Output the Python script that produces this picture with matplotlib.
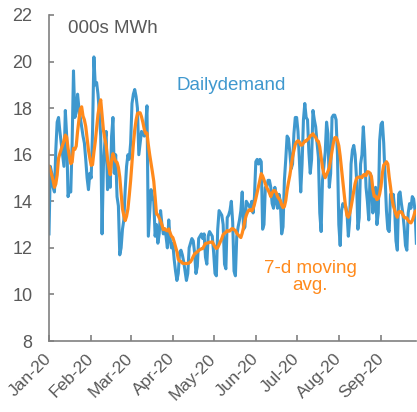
import matplotlib
matplotlib.use('Agg')
import matplotlib.pyplot as plt
import matplotlib.dates as mdates
import numpy as np
import pandas as pd

plt.rcParams['font.family'] = ['Liberation Sans', 'DejaVu Sans']

# daily demand, 000s MWh
dec_tail = [16.8, 16.5, 16.2, 16.5, 15.2, 14.7]  # 26-31 Dec 2019, only feeds the 7-d avg
jan = [12.6, 15.5, 15.2, 14.6, 14.4, 16.2, 17.4, 17.6, 17.0, 16.5, 16.0, 15.5, 17.9, 16.8, 14.2, 14.5,
       14.4, 16.5, 19.6, 17.6, 17.8, 18.6, 18.0, 17.6, 17.2, 16.8, 16.5, 15.8, 15.0, 14.5, 15.2]
feb = [15.0, 17.0, 20.2, 19.0, 19.1, 18.6, 17.8, 16.8, 12.6, 15.5, 16.5, 17.0, 14.5, 15.3, 14.6,
       16.8, 17.6, 15.2, 16.0, 14.2, 13.8, 11.7, 12.0, 12.8, 13.2, 14.5, 15.5, 16.0, 15.8]
mar = [16.5, 18.2, 18.6, 18.8, 18.5, 18.0, 16.0, 16.5, 17.0, 16.9, 16.8, 17.2, 18.1, 12.5, 13.5, 14.5,
       14.2, 14.0, 12.5, 13.0, 12.2, 12.6, 13.6, 13.0, 12.6, 12.8, 12.5, 12.0, 13.2, 12.4, 12.0]
apr = [12.2, 11.5, 11.0, 10.6, 10.9, 11.8, 11.9, 11.7, 11.4, 11.0, 10.6, 10.9, 12.0, 12.2, 12.4,
       12.3, 11.8, 10.9, 11.2, 12.4, 12.5, 12.6, 12.4, 12.6, 11.6, 11.3, 12.5, 12.7, 12.6, 12.5]
may = [11.8, 10.9, 10.8, 12.8, 13.6, 13.5, 13.4, 13.0, 11.3, 11.1, 13.3, 13.4, 13.6, 14.0, 13.1, 11.0,
       10.8, 12.5, 12.9, 13.2, 13.6, 14.4, 12.8, 12.9, 14.0, 13.9, 13.8, 13.7, 14.0, 13.5, 14.2]
jun = [15.7, 15.8, 15.6, 15.8, 15.7, 12.8, 13.0, 14.6, 14.6, 14.9, 14.9, 14.6, 13.9, 13.7, 14.6,
       14.0, 13.7, 14.3, 14.0, 12.6, 12.9, 14.9, 15.8, 16.8, 16.7, 16.1, 15.4, 15.6, 16.9, 17.6]
jul = [17.6, 17.0, 15.8, 14.4, 15.6, 17.5, 18.2, 17.6, 17.5, 16.1, 15.2, 15.8, 17.9, 17.5, 17.2, 16.5,
       15.9, 13.5, 12.7, 14.9, 15.5, 16.1, 17.4, 16.9, 14.6, 15.2, 17.6, 17.7, 17.7, 17.5, 16.0]
aug = [13.0, 12.1, 13.6, 13.9, 13.8, 13.8, 13.5, 12.5, 13.2, 15.6, 16.2, 16.4, 16.0, 15.0, 12.8, 13.3,
       15.6, 16.0, 17.2, 16.2, 14.6, 14.0, 13.2, 15.2, 15.0, 13.5, 14.0, 14.6, 13.0, 13.5, 16.6]
sep = [17.3, 17.4, 16.5, 15.0, 13.6, 12.8, 12.7, 14.3, 14.0, 14.3, 13.7, 12.3, 11.9, 14.3,
       14.4, 13.9, 13.5, 12.9, 12.1, 11.9, 13.5, 13.9, 13.7, 14.2, 14.1, 13.6, 12.2]

daily = jan + feb + mar + apr + may + jun + jul + aug + sep
dates = pd.date_range('2020-01-01', periods=len(daily), freq='D')
avg7 = pd.Series(dec_tail + daily).rolling(7).mean().values[len(dec_tail):]

blue = '#3F98CE'
orange = '#FF8A1C'
grey = '#595959'

fig = plt.figure(figsize=(4.17, 4.12), dpi=100)
ax = fig.add_axes([0.1175, 0.1723, 0.881, 0.7913])

ax.plot(dates, daily, color=blue, lw=2.2, solid_joinstyle='round')
ax.plot(dates, avg7, color=orange, lw=2.3, solid_joinstyle='round')

ax.set_ylim(8, 22)
ax.set_yticks(np.arange(8, 23, 2))
ax.set_xlim(dates[0], dates[-1])
ax.xaxis.set_major_locator(mdates.MonthLocator())
ax.xaxis.set_major_formatter(mdates.DateFormatter('%b-%y'))

for s in ['top', 'right']:
    ax.spines[s].set_visible(False)
for s in ['left', 'bottom']:
    ax.spines[s].set_color('#808080')
    ax.spines[s].set_linewidth(1.2)

ax.tick_params(axis='y', direction='in', length=3.5, width=1.2, color='#808080',
               pad=12, labelsize=13, labelcolor=grey)
ax.tick_params(axis='x', direction='in', length=4, width=1.2, color='#808080',
               pad=11, labelsize=12.5, labelcolor=grey)
for lab in ax.get_xticklabels():
    lab.set_rotation(45)
    lab.set_ha('right')
    lab.set_va('center')
    lab.set_rotation_mode('anchor')

ax.text(0.052, 0.96, '000s MWh', transform=ax.transAxes, fontsize=13.5,
        color=grey, ha='left', va='center')
ax.text(0.346, 0.785, 'Dailydemand', transform=ax.transAxes, fontsize=13.5,
        color=blue, ha='left', va='center')
ax.text(0.711, 0.196, '7-d moving\navg.', transform=ax.transAxes, fontsize=13.5,
        color=orange, ha='center', va='center', multialignment='center', linespacing=1.05)

fig.savefig('out.png', dpi=100)
